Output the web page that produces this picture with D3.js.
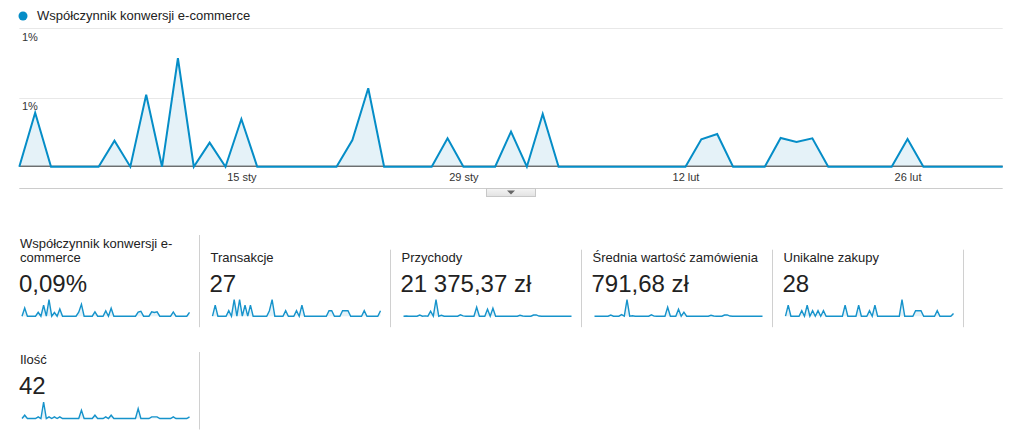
<!DOCTYPE html>
<html>
<head>
<meta charset="utf-8">
<script src="https://cdn.jsdelivr.net/npm/d3@7"></script>
<style>
    body { margin: 0; background: #fff; }
    svg text { font-family: Arial, "Liberation Sans", sans-serif; }
</style>
</head>
<body>
<div id="chart"></div>
<script>

// ---- data ----
const seriesName = "Współczynnik konwersji e-commerce";
const startDay = new Date(2015, 0, 1);
const endDay = new Date(2015, 2, 5);   // exclusive -> 63 days

// daily e-commerce conversion rate (%)
const conversionRate = [
    0, 0.546, 0, 0, 0, 0, 0.263, 0, 0.728, 0, 1.097, 0, 0.243, 0, 0.482,
    0, 0, 0, 0, 0, 0, 0.27, 0.793, 0, 0, 0, 0, 0.287, 0, 0,
    0, 0.354, 0, 0.533, 0, 0, 0, 0, 0, 0, 0, 0, 0, 0.277, 0.331,
    0, 0, 0, 0.29, 0.25, 0.287, 0, 0, 0, 0, 0, 0.28, 0, 0, 0,
    0, 0, 0
];

const yTicks = [0.7, 1.4];
const yTickLabels = ["1%", "1%"];

const xTicks = [new Date(2015, 0, 15), new Date(2015, 0, 29), new Date(2015, 1, 12), new Date(2015, 1, 26)];
const xTickLabels = ["15 sty", "29 sty", "12 lut", "26 lut"];

// sparklines
const sparkRate = [
    0, 0.546, 0, 0, 0, 0, 0.263, 0, 0.728, 0, 1.097, 0, 0.243, 0, 0.482,
    0, 0, 0, 0, 0, 0, 0.27, 0.793, 0, 0, 0, 0, 0.287, 0, 0,
    0, 0.354, 0, 0.533, 0, 0, 0, 0, 0, 0, 0, 0, 0, 0.277, 0.331,
    0, 0, 0, 0.29, 0.25, 0.287, 0, 0, 0, 0, 0, 0.28, 0, 0, 0,
    0, 0, 0.26
];
const transactions = [
    0, 2, 0, 0, 0, 0, 1, 0, 3, 0, 3, 0, 2, 0, 2,
    0, 0, 0, 0, 0, 0, 1, 3, 0, 0, 0, 0, 1, 0, 0,
    0, 1, 0, 2, 0, 0, 0, 0, 0, 0, 0, 0, 0, 1, 1,
    0, 0, 0, 1, 1, 1, 0, 0, 0, 0, 0, 1, 0, 0, 0,
    0, 0, 1
];
const revenue = [
    0, 60, 0, 0, 0, 0, 500, 0, 150, 0, 2100, 0, 7000, 0, 400,
    0, 0, 0, 0, 0, 0, 600, 120, 0, 0, 0, 0, 3800, 0, 0,
    0, 3000, 0, 3400, 0, 0, 0, 0, 0, 0, 0, 0, 0, 400, 90,
    0, 0, 0, 500, 550, 70, 0, 0, 0, 0, 0, 50, 0, 0, 0,
    0, 0, 0
];
const avgOrder = [
    0, 30, 0, 0, 0, 0, 500, 0, 50, 0, 700, 0, 7000, 0, 200,
    0, 0, 0, 0, 0, 0, 600, 40, 0, 0, 0, 0, 3800, 0, 0,
    0, 3000, 0, 1700, 0, 0, 0, 0, 0, 0, 0, 0, 0, 400, 90,
    0, 0, 0, 500, 550, 70, 0, 0, 0, 0, 0, 50, 0, 0, 0,
    0, 0, 0
];
const uniquePurchases = [
    0, 2, 0, 0, 0, 0, 1, 0, 2, 0, 1, 0, 1, 0, 1,
    0, 0, 0, 0, 0, 0, 0, 2, 0, 0, 0, 0, 2, 0, 0,
    0, 1, 0, 2, 0, 0, 0, 0, 0, 0, 0, 0, 0, 3, 0,
    0, 0, 0, 1, 1, 1, 0, 0, 0, 0, 0, 1, 0, 0, 0,
    0, 0, 0.5
];
const quantity = [
    0, 2, 0, 0, 0, 0, 1, 0, 10, 0, 1, 0, 1, 0, 1,
    0, 0, 0, 0, 0, 0, 0, 5, 0, 0, 0, 0, 2, 0, 0,
    0, 1, 0, 2, 0, 0, 0, 0, 0, 0, 0, 0, 0, 6, 0,
    0, 0, 0, 1, 1, 1, 0, 0, 0, 0, 0, 1, 0, 0, 0,
    0, 0, 1
];

const cardTitles = [
    ["Współczynnik konwersji e-", "commerce"],
    ["Transakcje"],
    ["Przychody"],
    ["Średnia wartość zamówienia"],
    ["Unikalne zakupy"],
    ["Ilość"]
];
const cardValues = ["0,09%", "27", "21 375,37 zł", "791,68 zł", "28", "42"];
const cardSeries = [sparkRate, transactions, revenue, avgOrder, uniquePurchases, quantity];


const blue = "#058dc7";
const fillBlue = "#e5f2f8";

let svg = d3.select("#chart").append("svg")
    .attr("width", 1014)
    .attr("height", 441);

let dates = d3.timeDay.range(startDay, endDay);

/* ---------- main line chart ---------- */
let x = d3.scaleTime()
    .domain([dates[0], dates[dates.length - 1]])
    .range([19.3, 1002.7]);

let y = d3.scaleLinear()
    .domain([0, 1.4])
    .range([166.7, 28.3]);

// legend
svg.append("circle")
    .attr("cx", 23)
    .attr("cy", 16)
    .attr("r", 4.5)
    .attr("fill", blue);

svg.append("text")
    .attr("x", 37)
    .attr("y", 20)
    .attr("font-size", 13)
    .attr("fill", "#222")
    .text(seriesName);

// gridlines
svg.selectAll(".grid")
    .data(yTicks)
    .enter()
    .append("line")
    .attr("class", "grid")
    .attr("x1", x.range()[0])
    .attr("x2", x.range()[1])
    .attr("y1", d => Math.round(y(d)) + 0.5)
    .attr("y2", d => Math.round(y(d)) + 0.5)
    .attr("stroke", "#e8e8e8");

svg.selectAll(".ylabel")
    .data(yTicks)
    .enter()
    .append("text")
    .attr("class", "ylabel")
    .attr("x", 22)
    .attr("y", d => y(d) + 12.4)
    .attr("font-size", 11)
    .attr("fill", "#333")
    .text((d, i) => yTickLabels[i]);

let area = d3.area()
    .x((d, i) => x(dates[i]))
    .y0(y(0))
    .y1(d => y(d));

let line = d3.line()
    .x((d, i) => x(dates[i]))
    .y(d => y(d));

svg.append("path")
    .datum(conversionRate)
    .attr("d", area)
    .attr("fill", fillBlue);

// baseline
svg.append("line")
    .attr("x1", x.range()[0])
    .attr("x2", x.range()[1])
    .attr("y1", y(0) - 0.5)
    .attr("y2", y(0) - 0.5)
    .attr("stroke", "#333");

svg.append("path")
    .datum(conversionRate)
    .attr("d", line)
    .attr("fill", "none")
    .attr("stroke", blue)
    .attr("stroke-width", 2)
    .attr("stroke-linejoin", "miter");

// x axis
let xAxis = d3.axisBottom(x)
    .tickValues(xTicks)
    .tickFormat((d, i) => xTickLabels[i])
    .tickSize(0)
    .tickPadding(7);

let xg = svg.append("g")
    .attr("transform", `translate(0, ${y(0)})`)
    .call(xAxis);
xg.select(".domain").remove();
xg.selectAll("text")
    .attr("font-size", 11)
    .attr("font-family", "Arial, 'Liberation Sans', sans-serif")
    .attr("fill", "#333");

// bottom rule + collapse tab
svg.append("line")
    .attr("x1", x.range()[0])
    .attr("x2", x.range()[1])
    .attr("y1", 188.5)
    .attr("y2", 188.5)
    .attr("stroke", "#ccc");

let defs = svg.append("defs");
let grad = defs.append("linearGradient")
    .attr("id", "tab-grad")
    .attr("x1", "0%").attr("y1", "0%")
    .attr("x2", "0%").attr("y2", "100%");
grad.append("stop").attr("offset", "0%").attr("stop-color", "#f4f4f4");
grad.append("stop").attr("offset", "100%").attr("stop-color", "#e2e2e2");

svg.append("rect")
    .attr("x", 486.5)
    .attr("y", 188.5)
    .attr("width", 49)
    .attr("height", 8)
    .attr("fill", "url(#tab-grad)")
    .attr("stroke", "#c8c8c8");

svg.append("path")
    .attr("d", "M507,190.5 L515,190.5 L511,194.5 Z")
    .attr("fill", "#666");

/* ---------- scorecards ---------- */
// row 1 -> 5 cards, row 2 -> 1 card
let cards = cardTitles.map((t, i) => {
    let row = i < 5 ? 0 : 1;
    let col = i < 5 ? i : 0;
    let sep = 199.5 + 191 * col;
    let left = col === 0 ? 20 : 199.5 + 191 * (col - 1) + 11;
    let titleBase = row === 0 ? 261.7 : 364;
    return {
        title: t,
        value: cardValues[i],
        series: cardSeries[i],
        sep: sep,
        left: left,
        titleBase: titleBase,
        valueBase: titleBase + 30,
        sparkBase: titleBase + 54.5,
        sepTop: (row === 0 && col === 0) ? 235 : titleBase - 12,
        sepBottom: titleBase + 65.5
    };
});

cards.forEach(c => {
    let g = svg.append("g");

    g.append("line")
        .attr("x1", c.sep)
        .attr("x2", c.sep)
        .attr("y1", c.sepTop)
        .attr("y2", c.sepBottom)
        .attr("stroke", "#d0d0d0");

    // title (last line sits on the common baseline)
    c.title.forEach((l, j) => {
        g.append("text")
            .attr("x", c.left)
            .attr("y", c.titleBase - (c.title.length - 1 - j) * 14)
            .attr("font-size", 13)
            .attr("fill", "#222")
            .text(l);
    });

    g.append("text")
        .attr("x", c.left - 1)
        .attr("y", c.valueBase)
        .attr("font-size", 24)
        .attr("fill", "#222")
        .text(c.value);

    let sx = d3.scaleLinear()
        .domain([0, c.series.length - 1])
        .range([c.left + 2, c.sep - 10]);
    let sy = d3.scaleLinear()
        .domain([0, d3.max(c.series)])
        .range([c.sparkBase, c.sparkBase - 16.5]);

    g.append("path")
        .datum(c.series)
        .attr("d", d3.area().x((d, i) => sx(i)).y0(sy(0)).y1(d => sy(d)))
        .attr("fill", fillBlue);

    g.append("path")
        .datum(c.series)
        .attr("d", d3.line().x((d, i) => sx(i)).y(d => sy(d)))
        .attr("fill", "none")
        .attr("stroke", "#1693cb")
        .attr("stroke-width", 1.4);
});

</script>
</body>
</html>
